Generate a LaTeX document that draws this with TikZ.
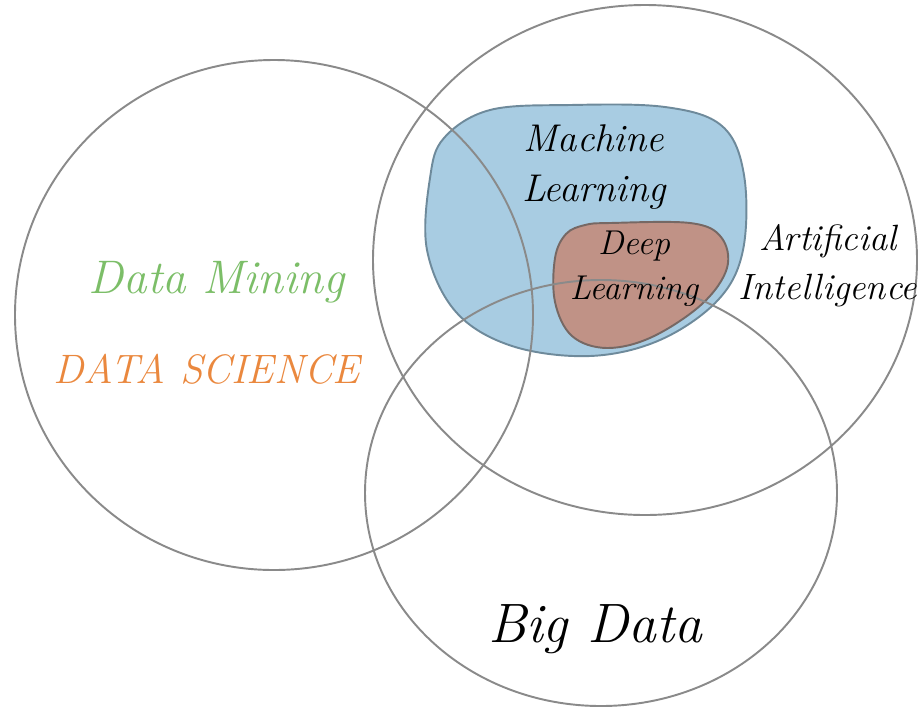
\documentclass[tikz,border=0pt]{standalone}
\usepackage{tikz}
\usetikzlibrary{positioning}
\definecolor{setgray}{RGB}{138,138,138}
\definecolor{mlblue}{RGB}{168,204,226}
\definecolor{mledge}{RGB}{110,138,155}
\definecolor{dlbrown}{RGB}{192,146,134}
\definecolor{dledge}{RGB}{118,104,100}
\definecolor{dmgreen}{RGB}{124,190,104}
\definecolor{dsorange}{RGB}{234,136,62}

\begin{document}
\begin{tikzpicture}[x=0.02cm,y=-0.02cm,
	set_line/.style={draw=setgray,line width=1.1pt},
	ml_blob/.style={fill=mlblue,draw=mledge,line width=1.1pt},
	dl_blob/.style={fill=dlbrown,draw=dledge,line width=1.1pt},
	set_label/.style={font=\itshape,align=center,inner sep=0pt}]
	\useasboundingbox (0,0) rectangle (918,711);
	% machine learning and deep learning
	\draw[ml_blob] plot[smooth cycle,tension=0.6] coordinates {(570,105) (665,107) (722,126) (744,175) (743,250) (718,300) (660,340) (590,356) (512,346) (456,312) (427,250) (430,178) (444,138) (490,110)};
	\draw[dl_blob] plot[smooth cycle,tension=0.6] coordinates {(610,223) (690,223) (721,237) (727,268) (702,304) (652,337) (607,348) (572,336) (555,302) (555,258) (566,234) (585,225)};
	% the three sets
	\draw[set_line] (274,315) ellipse (259 and 255);
	\draw[set_line] (645,260) ellipse (272 and 255);
	\draw[set_line] (601,493) ellipse (236 and 213);
	% labels
	\node[set_label,font=\itshape\fontsize{22}{28.5}\selectfont] (ml) at (594,167) {Machine\\Learning};
	\node[set_label,font=\itshape\fontsize{19.6}{25.5}\selectfont] (dl) at (634,269) {Deep\\Learning};
	\node[set_label,font=\itshape\fontsize{20.8}{28}\selectfont] (ai) at (828,266) {Artificial\\Intelligence};
	\node[set_label,text=dmgreen,font=\itshape\fontsize{26.8}{30}\selectfont] (dm) at (217,282) {Data Mining};
	\node[set_label,text=dsorange,font=\itshape\fontsize{23.4}{26}\selectfont] (ds) at (207,369) {DATA SCIENCE};
	\node[set_label,font=\itshape\fontsize{31.6}{36}\selectfont] (bd) at (595,629) {Big Data};
\end{tikzpicture}
\end{document}
